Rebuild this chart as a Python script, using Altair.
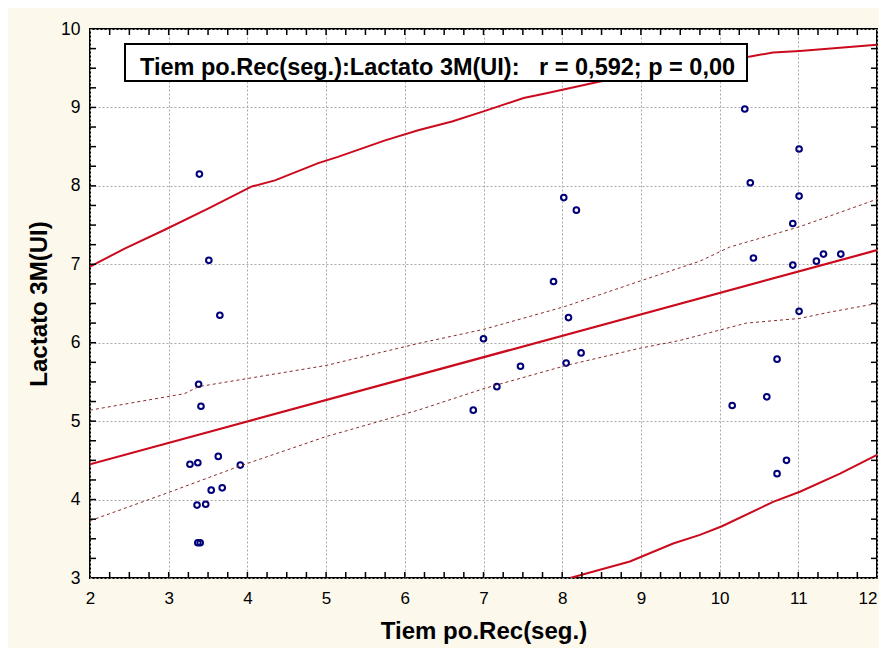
import altair as alt
import pandas as pd

# Scatter points (Tiempo.Rec, Lactato 3M)
pts_x = [3.39, 3.51, 3.65, 3.38, 3.41, 3.27, 3.37, 3.63, 3.91, 3.54, 3.68, 3.36, 3.47, 3.37, 3.40,
         8.02, 8.18, 7.89, 8.08, 7.00, 8.24, 8.05, 7.47, 7.17, 6.87,
         10.32, 11.01, 10.39, 11.01, 10.93, 10.43, 10.93, 11.23, 11.32, 11.54, 11.01, 10.73, 10.60,
         10.16, 10.85, 10.73]
pts_y = [8.15, 7.05, 6.35, 5.47, 5.19, 4.45, 4.47, 4.55, 4.44, 4.12, 4.15, 3.93, 3.94, 3.45, 3.45,
         7.85, 7.69, 6.78, 6.32, 6.05, 5.87, 5.74, 5.70, 5.44, 5.14,
         8.98, 8.47, 8.04, 7.87, 7.52, 7.08, 6.99, 7.04, 7.13, 7.13, 6.40, 5.79, 5.31,
         5.20, 4.50, 4.33]

# Regression line
fit_x = [2.0, 12.0]
fit_y = [4.45, 7.18]

# Confidence band (dashed)
ciu_x = [2.0, 3.2, 3.38, 5.0, 6.17, 7.0, 8.03, 9.0, 9.75, 10.13, 11.02, 12.0]
ciu_y = [5.14, 5.35, 5.44, 5.71, 5.99, 6.17, 6.46, 6.79, 7.04, 7.22, 7.48, 7.83]
cil_x = [2.0, 2.97, 3.91, 4.99, 6.17, 7.02, 8.05, 8.99, 9.5, 10.34, 11.02, 11.4, 12.0]
cil_y = [3.73, 4.08, 4.43, 4.80, 5.14, 5.42, 5.71, 5.93, 6.03, 6.25, 6.31, 6.39, 6.50]

# Prediction band (solid)
pu_x = [2.0, 2.44, 2.95, 3.5, 4.05, 4.35, 4.9, 5.15, 5.75, 6.17, 6.6, 7.0, 7.51, 7.8, 8.48,
        9.0, 9.5, 10.0, 10.39, 10.68, 11.02, 11.53, 12.0]
pu_y = [6.97, 7.20, 7.44, 7.71, 7.99, 8.07, 8.29, 8.37, 8.58, 8.71, 8.82, 8.95, 9.12, 9.18, 9.33,
        9.43, 9.52, 9.60, 9.65, 9.70, 9.72, 9.76, 9.80]
pl_x = [8.1, 8.86, 9.41, 9.75, 10.03, 10.68, 11.02, 11.53, 12.0]
pl_y = [3.0, 3.21, 3.44, 3.55, 3.66, 3.97, 4.10, 4.33, 4.57]

x_ticks = [2.25, 2.5, 2.75, 3, 3.25, 3.5, 3.75, 4, 4.25, 4.5, 4.75, 5, 5.25, 5.5, 5.75, 6,
           6.25, 6.5, 6.75, 7, 7.25, 7.5, 7.75, 8, 8.25, 8.5, 8.75, 9, 9.25, 9.5, 9.75, 10,
           10.25, 10.5, 10.75, 11, 11.25, 11.5, 11.75]
y_ticks = [3.25, 3.5, 3.75, 4, 4.25, 4.5, 4.75, 5, 5.25, 5.5, 5.75, 6, 6.25, 6.5, 6.75, 7,
           7.25, 7.5, 7.75, 8, 8.25, 8.5, 8.75, 9, 9.25, 9.5, 9.75]
x_labels = [2, 3, 4, 5, 6, 7, 8, 9, 10, 11, 12]
y_labels = [3, 4, 5, 6, 7, 8, 9, 10]

annot = "Tiem po.Rec(seg.):Lactato 3M(UI):\u00a0\u00a0\u00a0r = 0,592; p = 0,00"

W, H = 787, 549
FONT = "Liberation Sans"
RED = "#cc0a1e"
DRED = "#8a2a2a"
NAVY = "#00007a"

XMIN, XMAX, YMIN, YMAX = 2, 12, 3, 10
xs = alt.Scale(domain=[XMIN, XMAX], nice=False, zero=False)
ys = alt.Scale(domain=[YMIN, YMAX], nice=False, zero=False)

xaxis = alt.Axis(values=x_labels, format="d", title="Tiem po.Rec(seg.)", grid=True,
                 gridColor="#a8a8a8", gridDash=[2, 2], gridWidth=1, ticks=False, tickSize=0,
                 domain=False, labelFont=FONT, labelFontSize=17, labelColor="black",
                 labelPadding=12, labelFlush=False, labelOverlap=False,
                 labelAlign=alt.condition("datum.value == 12", alt.value("right"), alt.value("center")),
                 titleFont=FONT, titleFontSize=24, titleFontWeight="bold", titleColor="black",
                 titlePadding=13)
yaxis = alt.Axis(values=y_labels, format="d", title="Lactato 3M(UI)", grid=True,
                 gridColor="#a8a8a8", gridDash=[2, 2], gridWidth=1, ticks=False, tickSize=0,
                 domain=False, labelFont=FONT, labelFontSize=17.5, labelColor="black",
                 labelPadding=10, labelFlush=False, labelOverlap=False,
                 titleFont=FONT, titleFontSize=24, titleFontWeight="bold", titleColor="black",
                 titlePadding=9)

pts = pd.DataFrame({"x": pts_x, "y": pts_y})
base_pts = alt.Chart(pts).mark_point(shape="circle", filled=False, color=NAVY, size=32,
                                     strokeWidth=2, opacity=1).encode(
    x=alt.X("x:Q", scale=xs, axis=xaxis),
    y=alt.Y("y:Q", scale=ys, axis=yaxis),
)

def line(xv, yv, color, width, dash=None):
    df = pd.DataFrame({"x": xv, "y": yv})
    kw = dict(color=color, strokeWidth=width, clip=True)
    if dash:
        kw["strokeDash"] = dash
    return alt.Chart(df).mark_line(**kw).encode(
        x=alt.X("x:Q", scale=xs), y=alt.Y("y:Q", scale=ys))

fit = line(fit_x, fit_y, RED, 2.2)
ciu = line(ciu_x, ciu_y, DRED, 1, [3, 3])
cil = line(cil_x, cil_y, DRED, 1, [3, 3])
pu = line(pu_x, pu_y, RED, 2)
pl = line(pl_x, pl_y, RED, 2)

# inward tick marks on all four sides, as rules positioned through the scales
TL = 6
tx = pd.DataFrame({"x": x_ticks})
ty = pd.DataFrame({"y": y_ticks})
tick_style = dict(color="#000000", strokeWidth=1.5, opacity=1)
t_bot = alt.Chart(tx).mark_rule(**tick_style).encode(
    x=alt.X("x:Q", scale=xs), y=alt.value(H - TL), y2=alt.value(H))
t_top = alt.Chart(tx).mark_rule(**tick_style).encode(
    x=alt.X("x:Q", scale=xs), y=alt.value(0), y2=alt.value(TL))
t_left = alt.Chart(ty).mark_rule(**tick_style).encode(
    y=alt.Y("y:Q", scale=ys), x=alt.value(0), x2=alt.value(TL))
t_right = alt.Chart(ty).mark_rule(**tick_style).encode(
    y=alt.Y("y:Q", scale=ys), x=alt.value(W - TL), x2=alt.value(W))

one = pd.DataFrame({"t": [annot]})
box = alt.Chart(one).mark_rect(fill="white", stroke="black", strokeWidth=2).encode(
    x=alt.value(35), x2=alt.value(657), y=alt.value(15), y2=alt.value(52))
txt = alt.Chart(one).mark_text(align="left", baseline="alphabetic", font=FONT, fontSize=23.5,
                               fontWeight="bold", color="black").encode(
    x=alt.value(50), y=alt.value(45.5), text="t:N")

chart = alt.layer(base_pts, cil, ciu, fit, pu, pl, t_bot, t_top, t_left, t_right, box, txt
).properties(
    width=W, height=H,
    autosize=alt.AutoSizeParams(type="none"),
    padding={"left": 82, "top": 21, "right": 2, "bottom": 70},
    background="#fcf8ec",
).configure_view(stroke="black", strokeWidth=2, fill="white")

chart.save("out.html", embed_options={"renderer": "svg", "actions": False})
